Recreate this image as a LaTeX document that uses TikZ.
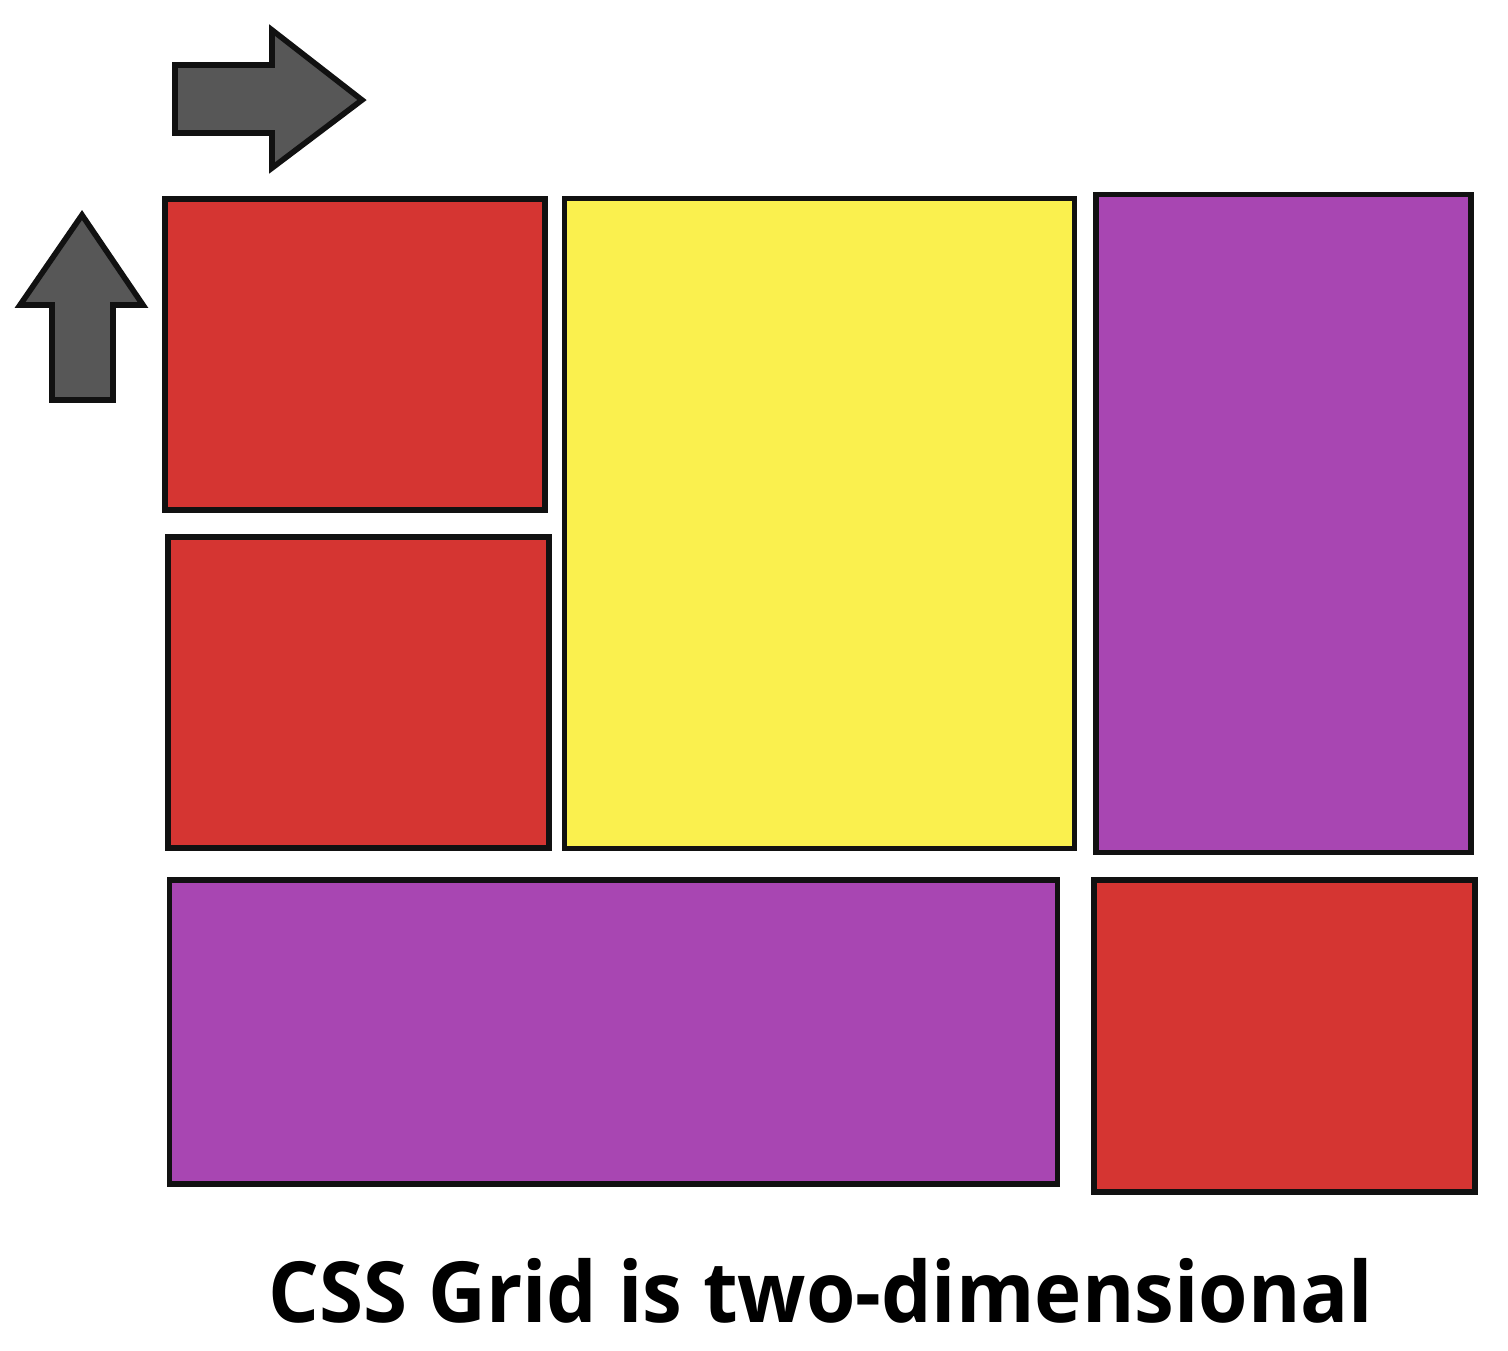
\documentclass[tikz,border=0pt]{standalone}
\usepackage{fontspec}
\setmainfont{Open Sans}
\usepackage{xcolor}
\usepackage{tikz}
\definecolor{gridred}{HTML}{D53532}
\definecolor{gridyellow}{HTML}{FAF04E}
\definecolor{gridpurple}{HTML}{A846B2}
\definecolor{gridarrow}{HTML}{575757}
\definecolor{gridink}{HTML}{111111}
\tikzset{
  cell/.style={draw=gridink, line width=1.5pt, inner sep=0pt},
  dirarrow/.style={draw=gridink, fill=gridarrow, line width=1.6pt, line join=miter},
  caption/.style={font=\bfseries\fontsize{24}{28}\selectfont, inner sep=0pt, xscale=0.947, transform shape}
}

\begin{document}
\begin{tikzpicture}[x=0.01cm, y=-0.01cm]
  \useasboundingbox (0,0) rectangle (1508,1350);

  % direction arrows
  \filldraw[dirarrow] (175,65) -- (272,65) -- (272,30) -- (362,100) -- (272,168)
    -- (272,133) -- (175,133) -- cycle;
  \filldraw[dirarrow] (82,215) -- (143,305) -- (113,305) -- (113,400) -- (52,400)
    -- (52,305) -- (20,305) -- cycle;

  % grid cells
  \node[cell, fill=gridred, minimum width=3.80cm, minimum height=3.11cm] (redA) at (355,354.5) {};
  \node[cell, fill=gridred, minimum width=3.81cm, minimum height=3.11cm] (redB) at (358.5,692.5) {};
  \node[cell, fill=gridyellow, minimum width=5.09cm, minimum height=6.49cm] (yellow) at (819.5,523.5) {};
  \node[cell, fill=gridpurple, minimum width=3.75cm, minimum height=6.57cm] (purpleA) at (1283.5,523.5) {};
  \node[cell, fill=gridpurple, minimum width=8.87cm, minimum height=3.04cm] (purpleB) at (613.5,1032) {};
  \node[cell, fill=gridred, minimum width=3.81cm, minimum height=3.12cm] (redC) at (1284.5,1036) {};

  \node[caption, anchor=base] (title) at (821,1322) {CSS Grid is two-dimensional};
\end{tikzpicture}
\end{document}
